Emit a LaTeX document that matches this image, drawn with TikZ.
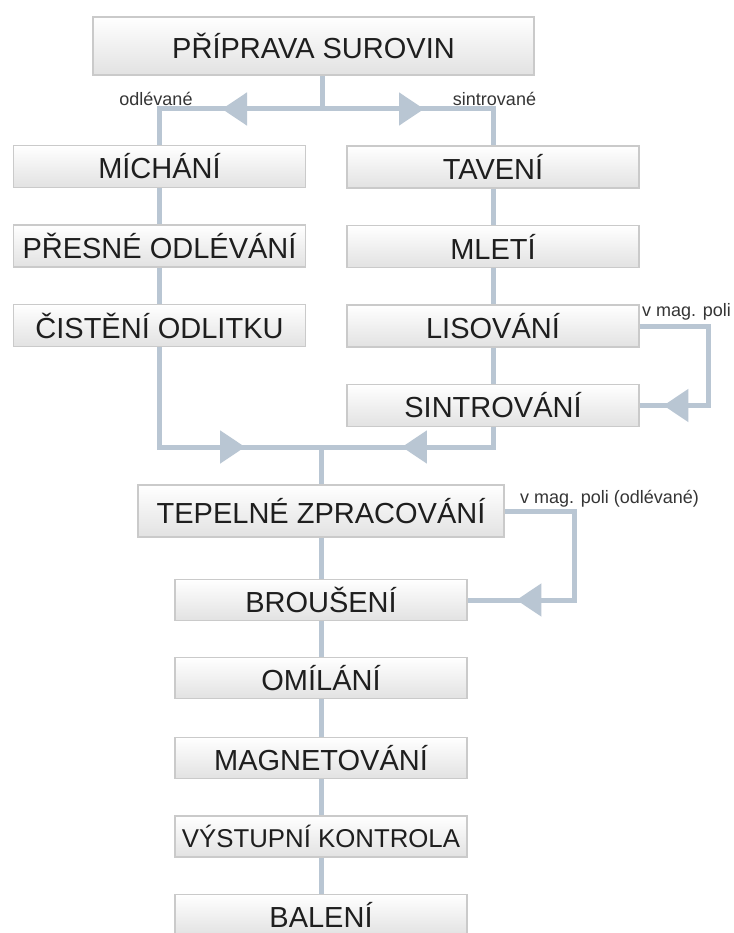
\documentclass[tikz,border=0pt]{standalone}
\usepackage{fontspec}
\setmainfont{Liberation Sans}
\usetikzlibrary{arrows.meta,decorations.markings,calc}
\definecolor{lc}{HTML}{B9C6D3}
\definecolor{bd}{HTML}{CACACA}
\definecolor{bf}{HTML}{E2E2E2}
\definecolor{tx}{HTML}{1E1E1E}
\begin{document}
\begin{tikzpicture}[x=1pt,y=-1pt,
  box/.style={draw=bd, line width=1.2pt, top color=white, bottom color=bf, text=tx,
    font=\fontsize{29}{30}\selectfont, inner sep=0pt, anchor=center},
  colbox/.style={box, minimum width=292pt, minimum height=42pt},
  lowbox/.style={box, minimum width=292pt, minimum height=41pt},
  flow/.style={draw=lc, line width=5pt, line join=miter},
  fwd/.style={postaction={decorate,decoration={markings,
    mark=at position #1 with {\arrow{Triangle[length=25pt,width=32pt]}}}}},
  lbl/.style={text=tx!90, font=\fontsize{18}{20}\selectfont, inner sep=0pt, anchor=base}]
\fill[white] (0,0) rectangle (733,933);
\useasboundingbox (0,0) rectangle (733,933);
\clip (0,0) rectangle (733,933);

% boxes
\node[box, minimum width=441pt, minimum height=58pt] (prep) at (313.5,46) {PŘÍPRAVA SUROVIN};
\node[colbox] (mich) at (159.5,166.5) {MÍCHÁNÍ};
\node[colbox] (pres) at (159.5,246) {PŘESNÉ ODLÉVÁNÍ};
\node[colbox] (cist) at (159.5,325.5) {ČISTĚNÍ ODLITKU};
\node[colbox] (tav) at (493,167) {TAVENÍ};
\node[colbox] (mlet) at (493,246.5) {MLETÍ};
\node[colbox] (lis) at (493,326) {LISOVÁNÍ};
\node[colbox] (sint) at (493,405.5) {SINTROVÁNÍ};
\node[box, minimum width=366pt, minimum height=52pt] (tep) at (321,511) {TEPELNÉ ZPRACOVÁNÍ};
\node[lowbox] (brou) at (321,600) {BROUŠENÍ};
\node[lowbox] (omil) at (321,678) {OMÍLÁNÍ};
\node[lowbox] (magn) at (321,758) {MAGNETOVÁNÍ};
\node[lowbox, font=\fontsize{25.8}{27}\selectfont] (vyst) at (321,836.5) {VÝSTUPNÍ KONTROLA};
\node[lowbox] (bal) at (321,915) {BALENÍ};

% helper coordinates
\coordinate (split) at (322,109);
\coordinate (join) at (321,447);
\coordinate (loopA) at (708,0);
\coordinate (loopB) at (574,0);

% connectors
\draw[flow] (prep.south -| split) -- (split);
\draw[flow, fwd=100pt] (split) -- (split -| mich.north) -- (mich.north);
\draw[flow, fwd=102pt] (split) -- (split -| tav.north) -- (tav.north);
\draw[flow] (mich.south) -- (pres.north);
\draw[flow] (pres.south) -- (cist.north);
\draw[flow] (tav.south) -- (mlet.north);
\draw[flow] (mlet.south) -- (lis.north);
\draw[flow] (lis.south) -- (sint.north);
\draw[flow, fwd=185.5pt] (cist.south) -- (cist.south |- join) -- (join);
\draw[flow, fwd=111pt] (sint.south) -- (sint.south |- join) -- (join);
\draw[flow] (join) -- (tep.north);
\draw[flow, fwd=192.5pt] (lis.east) -- (lis.east -| loopA) -- (sint.east -| loopA) -- (sint.east);
\draw[flow, fwd=216pt] (tep.east) -- (tep.east -| loopB) -- (brou.east -| loopB) -- (brou.east);
\draw[flow] (tep.south) -- (brou.north);
\draw[flow] (brou.south) -- (omil.north);
\draw[flow] (omil.south) -- (magn.north);
\draw[flow] (magn.south) -- (vyst.north);
\draw[flow] (vyst.south) -- (bal.north);

% labels
\node[lbl] (lodl) at (156,106) {odlévané};
\node[lbl] (lsin) at (494.5,106) {sintrované};
\node[lbl] (lmag) at (686.5,316) {v mag. poli};
\node[lbl] (lmag2) at (609.5,503) {v mag. poli (odlévané)};
\end{tikzpicture}
\end{document}
